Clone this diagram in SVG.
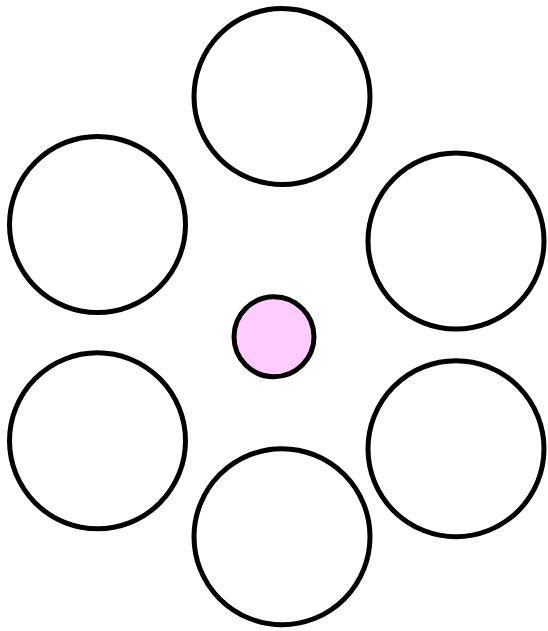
<svg xmlns="http://www.w3.org/2000/svg" width="548" height="631" viewBox="0 0 548 631">
<style>
.big{fill:#ffffff;stroke:#000000;stroke-width:5}
.hub{fill:#ffccff;stroke:#000000;stroke-width:5}
</style>
<rect width="548" height="631" fill="#ffffff"/>
<g id="connectors"></g>
<g id="n-top"><circle class="big" cx="282" cy="96.5" r="88"/></g>
<g id="n-left-upper"><circle class="big" cx="97.5" cy="224.5" r="88"/></g>
<g id="n-right-upper"><circle class="big" cx="456" cy="241" r="88"/></g>
<g id="n-left-lower"><circle class="big" cx="97.5" cy="440.8" r="88"/></g>
<g id="n-right-lower"><circle class="big" cx="456" cy="448.7" r="88"/></g>
<g id="n-bottom"><circle class="big" cx="282" cy="536.7" r="88"/></g>
<g id="n-center"><circle class="hub" cx="274" cy="336.8" r="40"/></g>
</svg>
